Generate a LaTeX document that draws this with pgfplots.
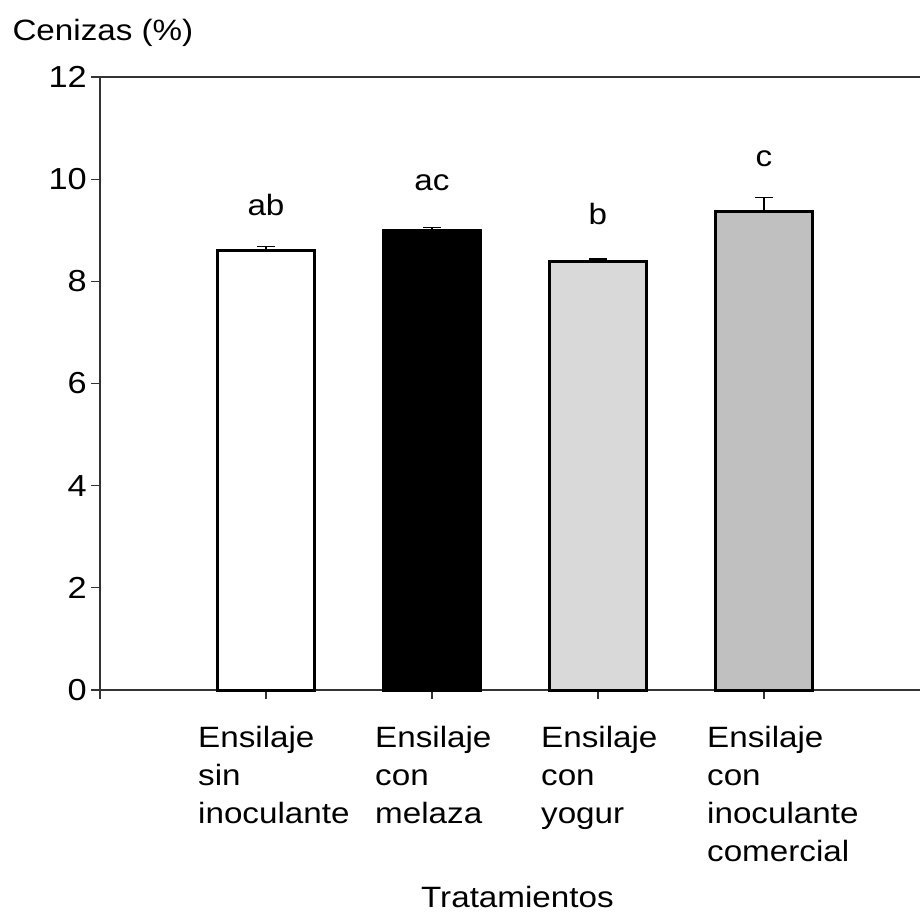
\documentclass[border=0pt]{standalone}
\usepackage{pgfplots}
\pgfplotsset{compat=1.18}
\usepackage{fontspec}
\setmainfont{Liberation Sans}[FakeStretch=1.13]
\definecolor{barlight}{HTML}{D9D9D9}
\definecolor{barmid}{HTML}{C0C0C0}
\newcommand{\lbl}[1]{\begin{tabular}{@{}l@{}}#1\end{tabular}}
\begin{document}
\begin{tikzpicture}[font=\fontsize{29.5}{38}\selectfont]
\begin{axis}[
  at={(0,0)}, anchor=south west,
  scale only axis, width=820bp, height=613bp,
  xmin=0, xmax=4.94, ymin=0, ymax=12,
  axis lines*=left,
  axis line style={line width=1.3bp, color=black!80},
  ytick={0,2,4,6,8,10,12},
  xtick={0,1,2,3,4},
  xticklabels={{},
    {\kern-11bp\lbl{Ensilaje\\sin\\inoculante}},
    {\lbl{Ensilaje\\con\\melaza}},
    {\lbl{Ensilaje\\con\\yogur}},
    {\lbl{Ensilaje\\con\\inoculante\\comercial}}},
  xticklabel style={anchor=north west, inner sep=0pt, xshift=-57bp, yshift=-22bp},
  yticklabel style={anchor=east, inner sep=0pt, xshift=-4bp,
    font=\fontsize{30.5}{38}\selectfont},
  tick align=outside, major tick length=9bp,
  tick style={line width=1.2bp, black!80},
  /pgf/number format/assume math mode=true,
  xticklabel style={font=\fontsize{29.5}{38}\selectfont},
  ylabel={Cenizas (\%)},
  xlabel={Tratamientos},
  every axis y label/.style={at={(axis description cs:-0.111,1.0718)}, anchor=west},
  every axis x label/.style={at={(axis description cs:0.5091,-0.354)}, anchor=base},
  label style={font=\fontsize{29.5}{38}\selectfont},
  clip=false,
]
% one bar per treatment, mean with upper standard error
\pgfplotsset{
  trat/.style={ybar, bar shift=0pt, bar width=97bp, draw=black, line width=3bp,
    error bars/y dir=plus, error bars/y explicit,
    error bars/error bar style={line width=1.3bp, black},
    error bars/error mark options={rotate=90, mark size=9bp, line width=1.3bp, black}},
}
\addplot[trat, fill=white] coordinates {(1,8.60) +- (0,0.08)};
\addplot[trat, fill=black] coordinates {(2,9.00) +- (0,0.06)};
\addplot[trat, fill=barlight] coordinates {(3,8.39) +- (0,0.05)};
\addplot[trat, fill=barmid] coordinates {(4,9.37) +- (0,0.27)};
% significance letters
\node[anchor=base] at (axis cs:1,9.29) {ab};
\node[anchor=base] at (axis cs:2,9.77) {ac};
\node[anchor=base] at (axis cs:3,9.12) {b};
\node[anchor=base] at (axis cs:4,10.25) {c};
% upper frame line
\draw[line width=2bp, black!80] (rel axis cs:0,1) -- (rel axis cs:1,1);
\end{axis}
\pgfresetboundingbox
\useasboundingbox (-100bp,-223bp) rectangle (820bp,690bp);
\end{tikzpicture}
\end{document}
